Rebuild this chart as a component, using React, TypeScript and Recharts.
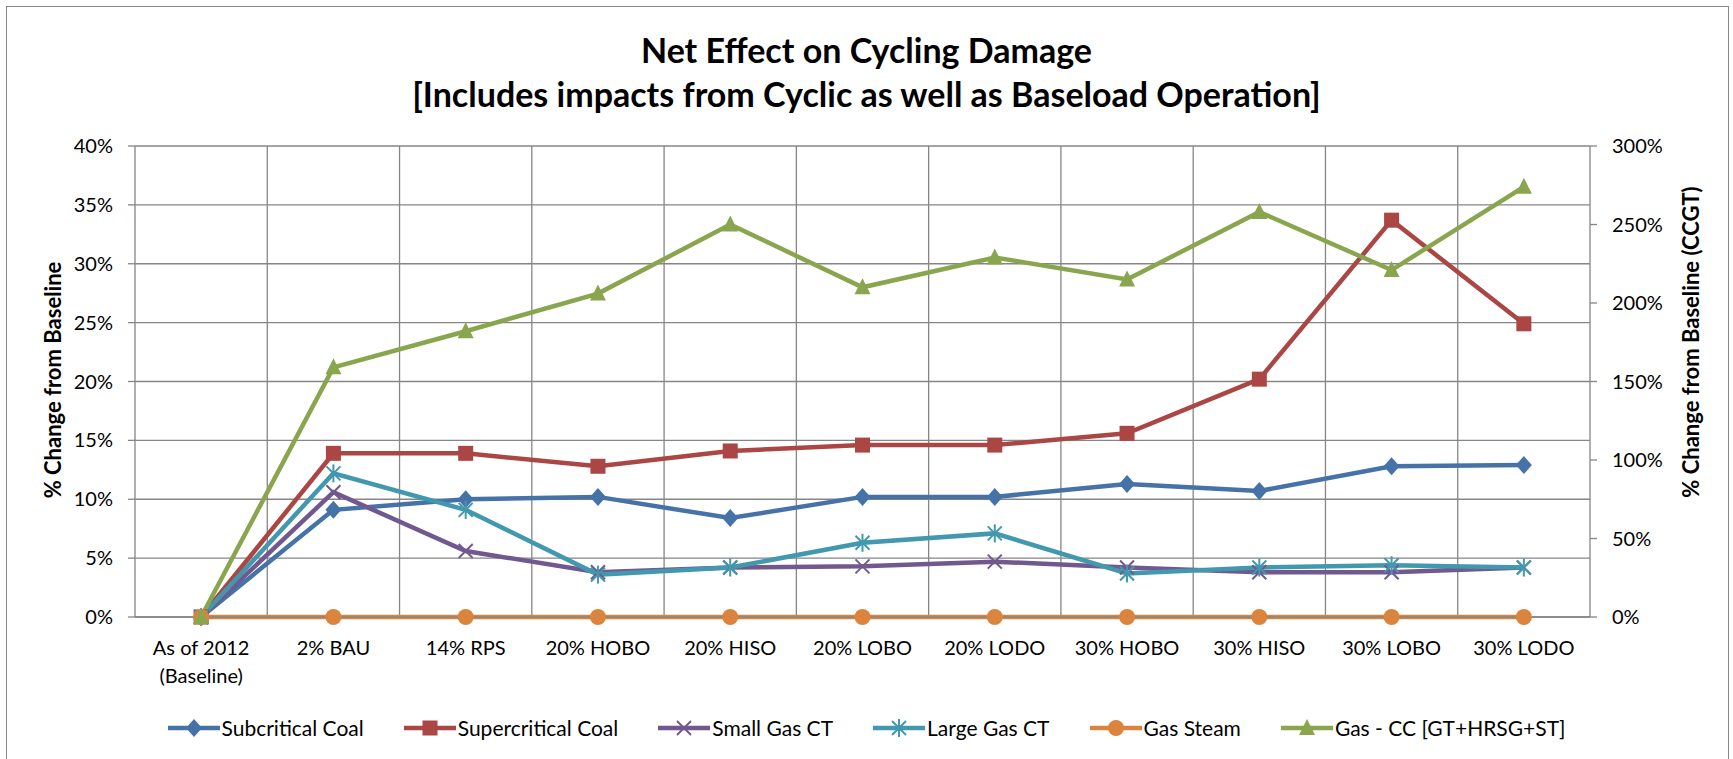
import React from 'react';
import { LineChart, Line, XAxis, YAxis, CartesianGrid, Legend } from 'recharts';

// scenario categories (x axis)
const categories = [
  'As of 2012\n(Baseline)',
  '2% BAU',
  '14% RPS',
  '20% HOBO',
  '20% HISO',
  '20% LOBO',
  '20% LODO',
  '30% HOBO',
  '30% HISO',
  '30% LOBO',
  '30% LODO',
];

// % change from baseline, left axis
const subcriticalCoal = [0, 9.1, 10.0, 10.2, 8.4, 10.2, 10.2, 11.3, 10.7, 12.8, 12.9];
const supercriticalCoal = [0, 13.9, 13.9, 12.8, 14.1, 14.6, 14.6, 15.6, 20.2, 33.7, 24.9];
const smallGasCT = [0, 10.6, 5.6, 3.8, 4.2, 4.3, 4.7, 4.2, 3.8, 3.8, 4.2];
const largeGasCT = [0, 12.2, 9.1, 3.6, 4.2, 6.3, 7.1, 3.7, 4.2, 4.4, 4.2];
const gasSteam = [0, 0, 0, 0, 0, 0, 0, 0, 0, 0, 0];
// % change from baseline (CCGT), right axis
const gasCC = [0, 159, 182, 206, 250, 210, 229, 215, 258, 221, 274];

const leftTicks = [0, 5, 10, 15, 20, 25, 30, 35, 40];
const rightTicks = [0, 50, 100, 150, 200, 250, 300];

const FONT = 'Lato, "Open Sans", sans-serif';
const GRID = '#868686';

type MarkerKind = 'diamond' | 'square' | 'x' | 'asterisk' | 'circle' | 'triangle';

const series: { key: string; name: string; color: string; marker: MarkerKind; values: number[]; axis: string | number }[] = [
  { key: 'subcritical', name: 'Subcritical Coal', color: '#4572A7', marker: 'diamond', values: subcriticalCoal, axis: 0 },
  { key: 'supercritical', name: 'Supercritical Coal', color: '#AA4643', marker: 'square', values: supercriticalCoal, axis: 0 },
  { key: 'smallCT', name: 'Small Gas CT', color: '#71588F', marker: 'x', values: smallGasCT, axis: 0 },
  { key: 'largeCT', name: 'Large Gas CT', color: '#4198AF', marker: 'asterisk', values: largeGasCT, axis: 0 },
  { key: 'steam', name: 'Gas Steam', color: '#DB843D', marker: 'circle', values: gasSteam, axis: 0 },
  { key: 'cc', name: 'Gas - CC [GT+HRSG+ST]', color: '#89A54E', marker: 'triangle', values: gasCC, axis: 'right' },
];

const data = categories.map((label, i) => {
  const row: Record<string, number | string> = { idx: i, label };
  series.forEach((s) => {
    row[s.key] = s.values[i];
  });
  return row;
});

// band edges, so grid lines fall between the categories like Excel
const bounds = categories.map((_, i) => i - 0.5).concat([categories.length - 0.5]);
const innerBounds = bounds.slice(1, -1);

const Marker = ({ kind, cx, cy, color }: { kind: MarkerKind; cx: number; cy: number; color: string }) => {
  switch (kind) {
    case 'diamond':
      return <polygon points={`${cx},${cy - 9} ${cx + 8},${cy} ${cx},${cy + 9} ${cx - 8},${cy}`} fill={color} />;
    case 'square':
      return <rect x={cx - 7.5} y={cy - 7.5} width={15} height={15} fill={color} />;
    case 'x':
      return (
        <g stroke={color} strokeWidth={2}>
          <line x1={cx - 7} y1={cy - 7} x2={cx + 7} y2={cy + 7} />
          <line x1={cx - 7} y1={cy + 7} x2={cx + 7} y2={cy - 7} />
        </g>
      );
    case 'asterisk':
      return (
        <g stroke={color} strokeWidth={2}>
          <line x1={cx - 7} y1={cy - 7} x2={cx + 7} y2={cy + 7} />
          <line x1={cx - 7} y1={cy + 7} x2={cx + 7} y2={cy - 7} />
          <line x1={cx} y1={cy - 9} x2={cx} y2={cy + 9} />
        </g>
      );
    case 'circle':
      return <circle cx={cx} cy={cy} r={8} fill={color} />;
    case 'triangle':
      return <polygon points={`${cx},${cy - 9} ${cx + 8},${cy + 7} ${cx - 8},${cy + 7}`} fill={color} />;
  }
  return null;
};

const makeDot = (kind: MarkerKind, color: string) => (props: any) => {
  const { cx, cy, index } = props;
  if (cx == null || cy == null) return <g key={`${kind}-${index}`} />;
  return (
    <g key={`${kind}-${index}`}>
      <Marker kind={kind} cx={cx} cy={cy} color={color} />
    </g>
  );
};

const CategoryTick = (props: any) => {
  const { x, y, payload } = props;
  const lines = String(categories[payload.value] ?? '').split('\n');
  return (
    <text x={x} y={y} textAnchor="middle" fontFamily={FONT} fontSize={20} fill="#000">
      {lines.map((l, i) => (
        <tspan key={i} x={x} dy={i === 0 ? 30 : 28}>
          {l}
        </tspan>
      ))}
    </text>
  );
};

const LegendContent = () => (
  <div style={{ display: 'flex', justifyContent: 'center', gap: 40, fontFamily: FONT, fontSize: 21, color: '#000' }}>
    {series.map((s) => (
      <div key={s.key} style={{ display: 'flex', alignItems: 'center' }}>
        <svg width={52} height={22} style={{ marginRight: 2 }}>
          <line x1={0} y1={11} x2={52} y2={11} stroke={s.color} strokeWidth={4.5} />
          <Marker kind={s.marker} cx={26} cy={11} color={s.color} />
        </svg>
        <span>{s.name}</span>
      </div>
    ))}
  </div>
);

const App: React.FC = () => {
  return (
    <div style={{ position: 'absolute', left: 0, top: 0, width: 1733, height: 759, overflow: 'hidden', background: '#fff' }}>
      <div
        style={{
          position: 'absolute',
          left: 6,
          top: 6,
          width: 1721,
          height: 800,
          border: '1.5px solid #8a8a8a',
        }}
      />
      <div
        style={{
          position: 'absolute',
          left: 0,
          top: 28,
          width: 1733,
          textAlign: 'center',
          fontFamily: FONT,
          fontWeight: 'bold',
          fontSize: 34,
          lineHeight: '44px',
          color: '#000',
        }}
      >
        <div>Net Effect on Cycling Damage</div>
        <div>[Includes impacts from Cyclic as well as Baseload Operation]</div>
      </div>
      <div
        style={{
          position: 'absolute',
          left: 52,
          top: 380,
          transform: 'translate(-50%, -50%) rotate(-90deg)',
          whiteSpace: 'nowrap',
          fontFamily: FONT,
          fontWeight: 'bold',
          fontSize: 22,
          color: '#000',
        }}
      >
        % Change from Baseline
      </div>
      <div
        style={{
          position: 'absolute',
          left: 1690,
          top: 342,
          transform: 'translate(-50%, -50%) rotate(-90deg)',
          whiteSpace: 'nowrap',
          fontFamily: FONT,
          fontWeight: 'bold',
          fontSize: 22,
          color: '#000',
        }}
      >
        % Change from Baseline (CCGT)
      </div>
      <div style={{ position: 'absolute', left: 0, top: 0 }}>
        <LineChart width={1733} height={759} data={data} margin={{ top: 146, right: 0, bottom: 82, left: 0 }}>
          <CartesianGrid stroke={GRID} strokeWidth={1.3} verticalValues={innerBounds} />
          <XAxis
            dataKey="idx"
            type="number"
            domain={[-0.5, categories.length - 0.5]}
            ticks={categories.map((_, i) => i)}
            interval={0}
            height={60}
            tick={<CategoryTick />}
            tickLine={false}
            axisLine={{ stroke: GRID, strokeWidth: 1.3 }}
          />
          <XAxis
            xAxisId="edges"
            dataKey="idx"
            type="number"
            domain={[-0.5, categories.length - 0.5]}
            ticks={bounds}
            interval={0}
            height={0}
            tick={false}
            tickSize={7}
            axisLine={false}
            tickLine={{ stroke: GRID, strokeWidth: 1.3 }}
          />
          <YAxis
            width={135}
            domain={[0, 40]}
            ticks={leftTicks}
            interval={0}
            tickFormatter={(v) => `${v}%`}
            tickSize={7}
            tickMargin={15}
            tick={{ fontFamily: FONT, fontSize: 20, fill: '#000' }}
            axisLine={{ stroke: GRID, strokeWidth: 1.3 }}
            tickLine={{ stroke: GRID, strokeWidth: 1.3 }}
          />
          <YAxis
            yAxisId="right"
            orientation="right"
            width={143}
            domain={[0, 300]}
            ticks={rightTicks}
            interval={0}
            tickFormatter={(v) => `${v}%`}
            tickSize={7}
            tickMargin={15}
            tick={{ fontFamily: FONT, fontSize: 20, fill: '#000', textAnchor: 'start' }}
            axisLine={{ stroke: GRID, strokeWidth: 1.3 }}
            tickLine={{ stroke: GRID, strokeWidth: 1.3 }}
          />
          {series.map((s) => (
            <Line
              key={s.key}
              yAxisId={s.axis}
              dataKey={s.key}
              name={s.name}
              type="linear"
              stroke={s.color}
              strokeWidth={4.5}
              dot={makeDot(s.marker, s.color)}
              activeDot={false}
              isAnimationActive={false}
            />
          ))}
          <Legend
            layout="horizontal"
            verticalAlign="middle"
            align="center"
            content={<LegendContent />}
            wrapperStyle={{ top: 715, left: 0, width: 1733 }}
          />
        </LineChart>
      </div>
    </div>
  );
};

export default App;
